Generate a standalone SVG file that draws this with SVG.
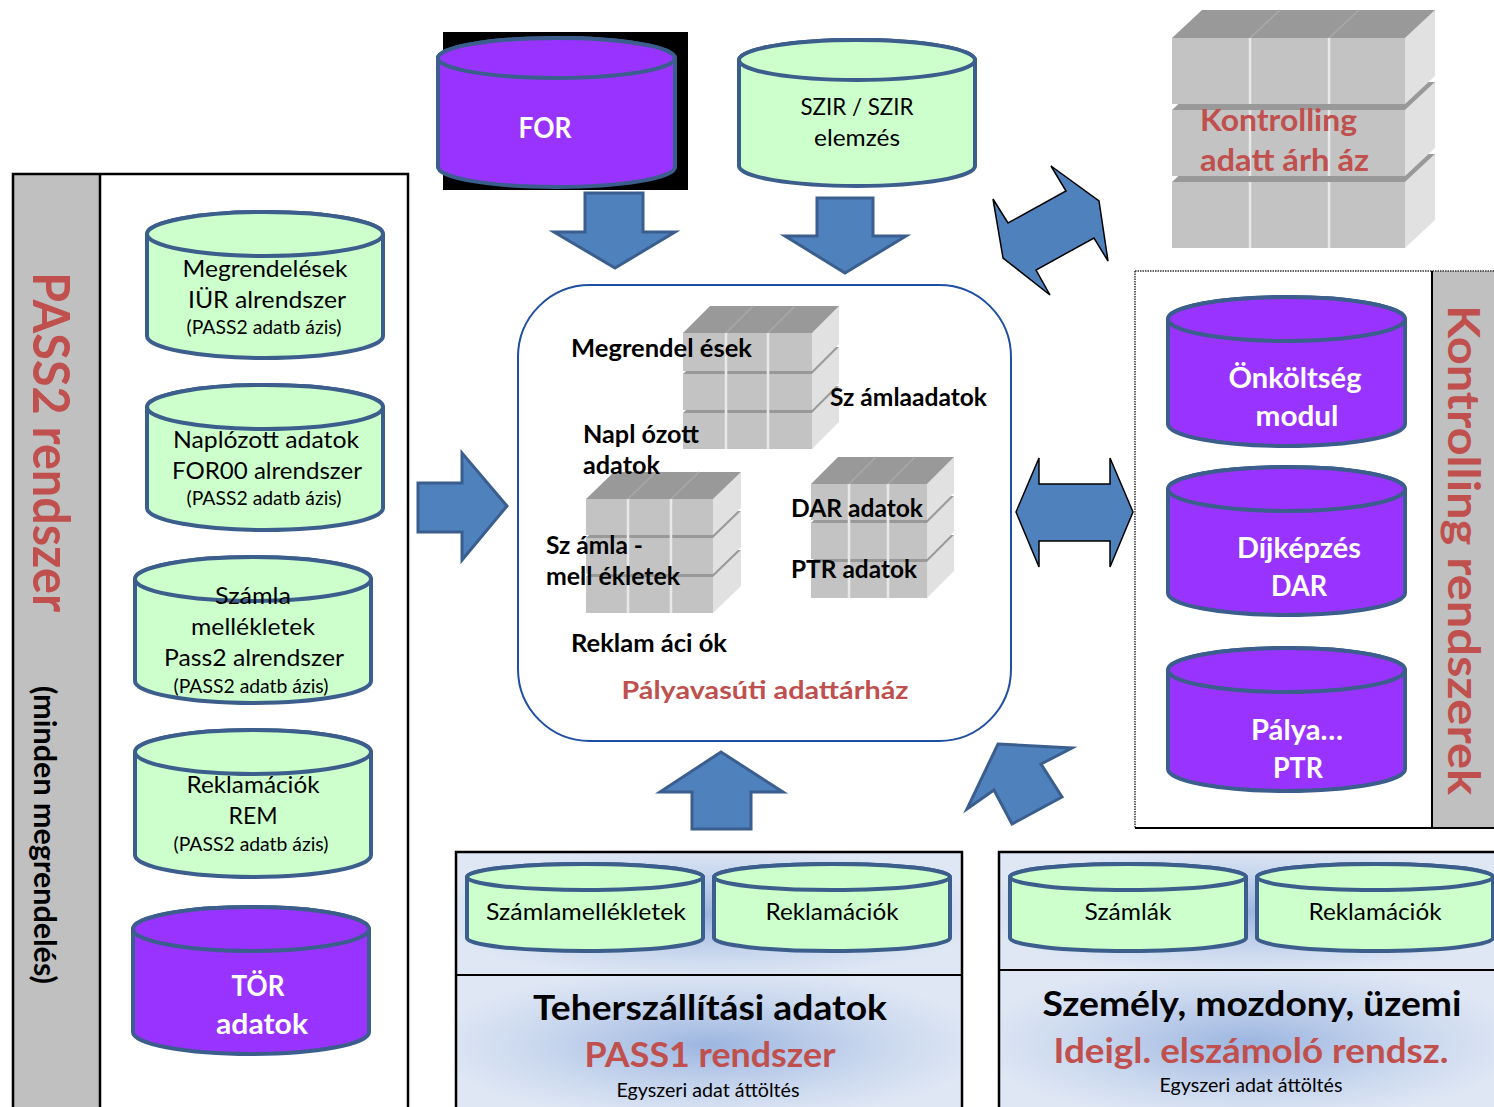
<svg xmlns="http://www.w3.org/2000/svg" width="1494" height="1107" viewBox="0 0 1494 1107">
<defs>
<radialGradient id="glow" cx="50%" cy="50%" r="55%">
<stop offset="0" stop-color="#9db6e0"/>
<stop offset="0.6" stop-color="#c9d7ee"/>
<stop offset="1" stop-color="#dfe7f4"/>
</radialGradient>
</defs>
<style>
text{font-family:Lato,"Open Sans","Liberation Sans",sans-serif;}
.cg{fill:#ccffcc;stroke:#3b5e8c;stroke-width:4;}
.cp{fill:#9933ff;stroke:#3b5e8c;stroke-width:4;}
.t{font-size:23.5px;fill:#000;text-anchor:middle;}
.ts{font-size:19px;fill:#000;text-anchor:middle;}
.tw{font-size:28.5px;font-weight:bold;fill:#fff;text-anchor:middle;}
.tb{font-size:24px;font-weight:bold;fill:#000;}
.red{fill:#c0504d;font-weight:bold;}
.arr{fill:#4f81bd;stroke:#3a5f8f;stroke-width:3;stroke-linejoin:miter;}
.arrk{fill:#4f81bd;stroke:#000;stroke-width:1.5;}
.fr{fill:#c3c3c3;}
.tp{fill:#999999;}
.rt{fill:#e1e1e1;}
.col{stroke:#e8e8e8;stroke-width:2.5;}
.dg{stroke:#a9a9a9;stroke-width:1.5;}
.pnl{fill:none;stroke:#000;stroke-width:2.5;}
</style>

<!-- Left panel -->
<g id="pass2-panel">
<rect x="13" y="174" width="87" height="940" fill="#c0c0c0"/>
<rect x="13" y="174" width="395" height="940" class="pnl"/>
<line x1="100" y1="174" x2="100" y2="1107" stroke="#000" stroke-width="2.5"/>
<text class="red" transform="translate(33,442) rotate(90)" text-anchor="middle" font-size="51" textLength="340" lengthAdjust="spacingAndGlyphs">PASS2 rendszer</text>
<text transform="translate(34,835) rotate(90)" text-anchor="middle" font-size="30" font-weight="bold" fill="#000" textLength="298" lengthAdjust="spacingAndGlyphs">(minden megrendelés)</text>
</g>

<g id="cyl-megrendelesek">
<path class="cg" d="M147,234 V336 A118,22 0 0 0 383,336 V234 A118,22 0 0 0 147,234 Z"/>
<ellipse class="cg" cx="265" cy="234" rx="118" ry="22"/>
<text class="t" x="265" y="277" textLength="165" lengthAdjust="spacingAndGlyphs">Megrendelések</text>
<text class="t" x="267" y="308" textLength="158" lengthAdjust="spacingAndGlyphs">IÜR alrendszer</text>
<text class="ts" x="264" y="334" textLength="155" lengthAdjust="spacingAndGlyphs">(PASS2 adatb ázis)</text>
</g>
<g id="cyl-naplozott">
<path class="cg" d="M147,407 V508 A118,22 0 0 0 383,508 V407 A118,22 0 0 0 147,407 Z"/>
<ellipse class="cg" cx="265" cy="407" rx="118" ry="22"/>
<text class="t" x="266" y="448" textLength="186" lengthAdjust="spacingAndGlyphs">Naplózott adatok</text>
<text class="t" x="267" y="479" textLength="190" lengthAdjust="spacingAndGlyphs">FOR00 alrendszer</text>
<text class="ts" x="264" y="505" textLength="155" lengthAdjust="spacingAndGlyphs">(PASS2 adatb ázis)</text>
</g>
<g id="cyl-szamla">
<path class="cg" d="M135,579 V681 A118,22 0 0 0 371,681 V579 A118,22 0 0 0 135,579 Z"/>
<ellipse class="cg" cx="253" cy="579" rx="118" ry="22"/>
<text class="t" x="253" y="604" textLength="76" lengthAdjust="spacingAndGlyphs">Számla</text>
<text class="t" x="253" y="635" textLength="124" lengthAdjust="spacingAndGlyphs">mellékletek</text>
<text class="t" x="254" y="666" textLength="180" lengthAdjust="spacingAndGlyphs">Pass2 alrendszer</text>
<text class="ts" x="251" y="693" textLength="155" lengthAdjust="spacingAndGlyphs">(PASS2 adatb ázis)</text>
</g>
<g id="cyl-reklamaciok">
<path class="cg" d="M135,752 V855 A118,22 0 0 0 371,855 V752 A118,22 0 0 0 135,752 Z"/>
<ellipse class="cg" cx="253" cy="752" rx="118" ry="22"/>
<text class="t" x="253" y="793" textLength="133" lengthAdjust="spacingAndGlyphs">Reklamációk</text>
<text class="t" x="253" y="824" textLength="49" lengthAdjust="spacingAndGlyphs">REM</text>
<text class="ts" x="251" y="851" textLength="155" lengthAdjust="spacingAndGlyphs">(PASS2 adatb ázis)</text>
</g>
<g id="cyl-tor">
<path class="cp" d="M133,929 V1032 A118,22 0 0 0 369,1032 V929 A118,22 0 0 0 133,929 Z"/>
<ellipse class="cp" cx="251" cy="929" rx="118" ry="22"/>
<text class="tw" x="258" y="996" textLength="53" lengthAdjust="spacingAndGlyphs">TÖR</text>
<text class="tw" x="262" y="1034" textLength="92" lengthAdjust="spacingAndGlyphs">adatok</text>
</g>

<!-- Top cylinders -->
<g id="cyl-for">
<rect x="443" y="32" width="245" height="158" fill="#000"/>
<path class="cp" d="M438,58 V167 A118.5,20 0 0 0 675,167 V58 A118.5,20 0 0 0 438,58 Z"/>
<ellipse class="cp" cx="556.5" cy="58" rx="118.5" ry="20"/>
<text class="tw" x="545" y="138" textLength="53" lengthAdjust="spacingAndGlyphs">FOR</text>
</g>
<g id="cyl-szir">
<path class="cg" d="M739,60 V166 A118,20 0 0 0 975,166 V60 A118,20 0 0 0 739,60 Z"/>
<ellipse class="cg" cx="857" cy="60" rx="118" ry="20"/>
<text class="t" x="857" y="115" textLength="113" lengthAdjust="spacingAndGlyphs">SZIR / SZIR</text>
<text class="t" x="857" y="146" textLength="86" lengthAdjust="spacingAndGlyphs">elemzés</text>
</g>

<!-- Kontrolling adattárház cube -->
<g id="kontrolling-adattarhaz">
<polygon class="rt" points="1405,182 1435,154 1435,220 1405,248"/>
<polygon class="tp" points="1172,182 1202,154 1435,154 1405,182"/>
<rect class="fr" x="1172" y="182" width="233" height="66"/>
<line class="col" x1="1250" y1="182" x2="1250" y2="248"/>
<line class="col" x1="1329" y1="182" x2="1329" y2="248"/>
<polygon class="rt" points="1405,110 1435,82 1435,148 1405,176"/>
<polygon class="tp" points="1172,110 1202,82 1435,82 1405,110"/>
<rect class="fr" x="1172" y="110" width="233" height="66"/>
<line class="col" x1="1250" y1="110" x2="1250" y2="176"/>
<line class="col" x1="1329" y1="110" x2="1329" y2="176"/>
<polygon class="rt" points="1405,38 1435,10 1435,76 1405,104"/>
<polygon class="tp" points="1172,38 1202,10 1435,10 1405,38"/>
<line class="dg" x1="1250" y1="38" x2="1280" y2="10"/>
<line class="dg" x1="1329" y1="38" x2="1359" y2="10"/>
<rect class="fr" x="1172" y="38" width="233" height="66"/>
<line class="col" x1="1250" y1="38" x2="1250" y2="104"/>
<line class="col" x1="1329" y1="38" x2="1329" y2="104"/>
<text class="red" x="1200" y="131" font-size="30.5" textLength="157" lengthAdjust="spacingAndGlyphs">Kontrolling</text>
<text class="red" x="1200" y="171" font-size="30.5" textLength="169" lengthAdjust="spacingAndGlyphs">adatt árh áz</text>
</g>

<!-- Center warehouse -->
<g id="palyavasuti-adattarhaz">
<rect x="518" y="285" width="493" height="456" rx="72" ry="72" fill="#fff" stroke="#1f4fa3" stroke-width="2"/>
<!-- cube A -->
<polygon class="rt" points="812,413 839,386 839,422 812,449"/>
<polygon class="tp" points="683,413 710,386 839,386 812,413"/>
<rect class="fr" x="683" y="413" width="129" height="36"/>
<polygon class="rt" points="812,374 839,347 839,383 812,410"/>
<polygon class="tp" points="683,374 710,347 839,347 812,374"/>
<rect class="fr" x="683" y="374" width="129" height="36"/>
<polygon class="rt" points="812,333 839,306 839,344 812,371"/>
<polygon class="tp" points="683,333 710,306 839,306 812,333"/>
<line class="dg" x1="726" y1="333" x2="753" y2="306"/>
<line class="dg" x1="768" y1="333" x2="795" y2="306"/>
<rect class="fr" x="683" y="333" width="129" height="38"/>
<line class="col" x1="726" y1="333" x2="726" y2="449"/>
<line class="col" x1="768" y1="333" x2="768" y2="449"/>
<!-- cube B -->
<polygon class="rt" points="713,577 741,550 741,586 713,613"/>
<polygon class="tp" points="586,577 614,550 741,550 713,577"/>
<rect class="fr" x="586" y="577" width="127" height="36"/>
<polygon class="rt" points="713,538 741,511 741,547 713,574"/>
<polygon class="tp" points="586,538 614,511 741,511 713,538"/>
<rect class="fr" x="586" y="538" width="127" height="36"/>
<polygon class="rt" points="713,499 741,472 741,508 713,535"/>
<polygon class="tp" points="586,499 614,472 741,472 713,499"/>
<line class="dg" x1="628" y1="499" x2="656" y2="472"/>
<line class="dg" x1="671" y1="499" x2="699" y2="472"/>
<rect class="fr" x="586" y="499" width="127" height="36"/>
<line class="col" x1="628" y1="499" x2="628" y2="613"/>
<line class="col" x1="671" y1="499" x2="671" y2="613"/>
<!-- cube C -->
<polygon class="rt" points="927,562 954,535 954,571 927,598"/>
<polygon class="tp" points="811,562 838,535 954,535 927,562"/>
<rect class="fr" x="811" y="562" width="116" height="36"/>
<polygon class="rt" points="927,523 954,496 954,532 927,559"/>
<polygon class="tp" points="811,523 838,496 954,496 927,523"/>
<rect class="fr" x="811" y="523" width="116" height="36"/>
<polygon class="rt" points="927,484 954,457 954,493 927,520"/>
<polygon class="tp" points="811,484 838,457 954,457 927,484"/>
<line class="dg" x1="849" y1="484" x2="876" y2="457"/>
<line class="dg" x1="888" y1="484" x2="915" y2="457"/>
<rect class="fr" x="811" y="484" width="116" height="36"/>
<line class="col" x1="849" y1="484" x2="849" y2="598"/>
<line class="col" x1="888" y1="484" x2="888" y2="598"/>
<text class="tb" x="571" y="357" textLength="181" lengthAdjust="spacingAndGlyphs">Megrendel ések</text>
<text class="tb" x="830" y="406" textLength="157" lengthAdjust="spacingAndGlyphs">Sz ámlaadatok</text>
<text class="tb" x="583" y="443" textLength="116" lengthAdjust="spacingAndGlyphs">Napl ózott</text>
<text class="tb" x="583" y="474" textLength="77" lengthAdjust="spacingAndGlyphs">adatok</text>
<text class="tb" x="791" y="517" textLength="132" lengthAdjust="spacingAndGlyphs">DAR adatok</text>
<text class="tb" x="791" y="578" textLength="126" lengthAdjust="spacingAndGlyphs">PTR adatok</text>
<text class="tb" x="546" y="554" textLength="97" lengthAdjust="spacingAndGlyphs">Sz ámla -</text>
<text class="tb" x="546" y="585" textLength="134" lengthAdjust="spacingAndGlyphs">mell ékletek</text>
<text class="tb" x="571" y="652" textLength="156" lengthAdjust="spacingAndGlyphs">Reklam áci ók</text>
<text class="red" x="765" y="699" font-size="25.5" text-anchor="middle" textLength="287" lengthAdjust="spacingAndGlyphs">Pályavasúti adattárház</text>
</g>

<!-- Right panel -->
<g id="kontrolling-panel">
<rect x="1432" y="271" width="64" height="557" fill="#c0c0c0"/>
<text class="red" transform="translate(1448,550) rotate(90)" text-anchor="middle" font-size="44" textLength="490" lengthAdjust="spacingAndGlyphs">Kontrolling rendszerek</text>
<line x1="1135" y1="271" x2="1494" y2="271" stroke="#333" stroke-width="1.5" stroke-dasharray="1.5 1"/>
<line x1="1135" y1="271" x2="1135" y2="828" stroke="#333" stroke-width="1.5" stroke-dasharray="1.5 1"/>
<line x1="1135" y1="828" x2="1494" y2="828" stroke="#000" stroke-width="2"/>
<line x1="1432" y1="271" x2="1432" y2="828" stroke="#000" stroke-width="2"/>
</g>
<g id="cyl-onkoltseg">
<path class="cp" d="M1168,319 V424 A118.5,22 0 0 0 1405,424 V319 A118.5,22 0 0 0 1168,319 Z"/>
<ellipse class="cp" cx="1286.5" cy="319" rx="118.5" ry="22"/>
<text class="tw" x="1295" y="388" textLength="133" lengthAdjust="spacingAndGlyphs">Önköltség</text>
<text class="tw" x="1297" y="426" textLength="83" lengthAdjust="spacingAndGlyphs">modul</text>
</g>
<g id="cyl-dijkepzes">
<path class="cp" d="M1168,489 V593 A118.5,22 0 0 0 1405,593 V489 A118.5,22 0 0 0 1168,489 Z"/>
<ellipse class="cp" cx="1286.5" cy="489" rx="118.5" ry="22"/>
<text class="tw" x="1299" y="558" textLength="124" lengthAdjust="spacingAndGlyphs">Díjképzés</text>
<text class="tw" x="1299" y="596" textLength="56" lengthAdjust="spacingAndGlyphs">DAR</text>
</g>
<g id="cyl-palya">
<path class="cp" d="M1168,670 V769 A118.5,22 0 0 0 1405,769 V670 A118.5,22 0 0 0 1168,670 Z"/>
<ellipse class="cp" cx="1286.5" cy="670" rx="118.5" ry="22"/>
<text class="tw" x="1297" y="740" textLength="92" lengthAdjust="spacingAndGlyphs">Pálya…</text>
<text class="tw" x="1298" y="778" textLength="50" lengthAdjust="spacingAndGlyphs">PTR</text>
</g>

<!-- Bottom panel 1 -->
<g id="pass1-panel">
<rect x="456" y="852" width="506" height="123" fill="url(#glow)"/>
<rect x="456" y="975" width="506" height="140" fill="url(#glow)"/>
<rect x="456" y="852" width="506" height="263" class="pnl"/>
<line x1="456" y1="975" x2="962" y2="975" stroke="#000" stroke-width="2"/>
<text x="710" y="1020" font-size="35" font-weight="bold" fill="#000" text-anchor="middle" textLength="354" lengthAdjust="spacingAndGlyphs">Teherszállítási adatok</text>
<text class="red" x="710" y="1067" font-size="35" text-anchor="middle" textLength="251" lengthAdjust="spacingAndGlyphs">PASS1 rendszer</text>
<text class="ts" x="708" y="1097" textLength="183" lengthAdjust="spacingAndGlyphs">Egyszeri adat áttöltés</text>
</g>
<g id="cyl-p1-szamlamellekletek">
<path class="cg" d="M467,877 V938 A118,13 0 0 0 703,938 V877 A118,13 0 0 0 467,877 Z"/>
<ellipse class="cg" cx="585" cy="877" rx="118" ry="13"/>
<text class="t" x="586" y="920" font-size="22" textLength="200" lengthAdjust="spacingAndGlyphs">Számlamellékletek</text>
</g>
<g id="cyl-p1-reklamaciok">
<path class="cg" d="M714,877 V938 A118,13 0 0 0 950,938 V877 A118,13 0 0 0 714,877 Z"/>
<ellipse class="cg" cx="832" cy="877" rx="118" ry="13"/>
<text class="t" x="832" y="920" font-size="22" textLength="133" lengthAdjust="spacingAndGlyphs">Reklamációk</text>
</g>

<!-- Bottom panel 2 -->
<g id="ideigl-panel">
<rect x="999" y="852" width="500" height="118" fill="url(#glow)"/>
<rect x="999" y="970" width="500" height="145" fill="url(#glow)"/>
<rect x="999" y="852" width="500" height="263" class="pnl"/>
<line x1="999" y1="970" x2="1494" y2="970" stroke="#000" stroke-width="2"/>
<text x="1252" y="1016" font-size="35" font-weight="bold" fill="#000" text-anchor="middle" textLength="419" lengthAdjust="spacingAndGlyphs">Személy, mozdony, üzemi</text>
<text class="red" x="1251" y="1063" font-size="35" text-anchor="middle" textLength="395" lengthAdjust="spacingAndGlyphs">Ideigl. elszámoló rendsz.</text>
<text class="ts" x="1251" y="1092" textLength="183" lengthAdjust="spacingAndGlyphs">Egyszeri adat áttöltés</text>
</g>
<g id="cyl-p2-szamlak">
<path class="cg" d="M1010,877 V938 A118,13 0 0 0 1246,938 V877 A118,13 0 0 0 1010,877 Z"/>
<ellipse class="cg" cx="1128" cy="877" rx="118" ry="13"/>
<text class="t" x="1128" y="920" font-size="22" textLength="87" lengthAdjust="spacingAndGlyphs">Számlák</text>
</g>
<g id="cyl-p2-reklamaciok">
<path class="cg" d="M1257,877 V938 A118,13 0 0 0 1493,938 V877 A118,13 0 0 0 1257,877 Z"/>
<ellipse class="cg" cx="1375" cy="877" rx="118" ry="13"/>
<text class="t" x="1375" y="920" font-size="22" textLength="133" lengthAdjust="spacingAndGlyphs">Reklamációk</text>
</g>

<!-- Connectors -->
<g id="connectors">
<polygon class="arr" points="585,193 643,193 643,232 675,232 615,268 554,232 585,232"/>
<polygon class="arr" points="817,198 873,198 873,236 906,236 845,273 785,236 817,236"/>
<polygon class="arr" points="418,483 462,483 462,453 507,506 462,560 462,532 418,532"/>
<polygon class="arr" points="692,829 751,829 751,792 783,792 721,752 660,792 692,792"/>
<polygon class="arr" points="998,744 1072,748 1041,764 1062,797 1012,824 994,790 967,809"/>
<polygon class="arrk" points="1016,512 1039,458 1039,484 1110,484 1110,458 1133,512 1110,567 1110,541 1039,541 1039,567"/>
<polygon class="arrk" points="993,199 1008,223 1066,191 1051,166 1099,201 1108,261 1094,238 1036,270 1050,295 1003,258"/>
</g>
</svg>
